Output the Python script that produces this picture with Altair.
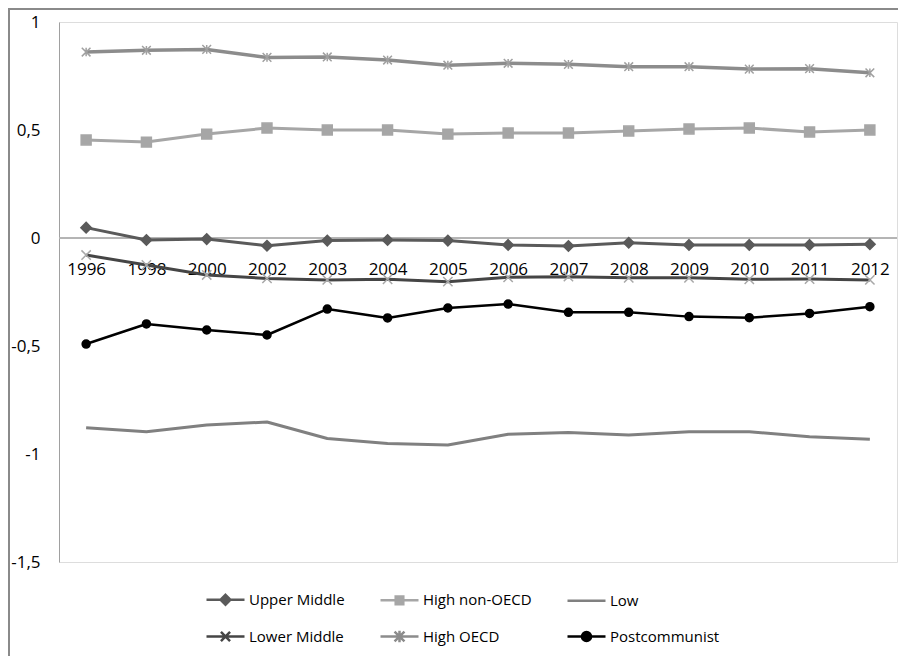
import altair as alt
import pandas as pd

years = ["1996", "1998", "2000", "2002", "2003", "2004", "2005",
         "2006", "2007", "2008", "2009", "2010", "2011", "2012"]

upper_middle = [0.048, -0.009, -0.005, -0.036, -0.012, -0.009, -0.012,
                -0.032, -0.037, -0.022, -0.032, -0.032, -0.032, -0.029]
high_non_oecd = [0.454, 0.444, 0.481, 0.509, 0.500, 0.500, 0.481,
                 0.486, 0.486, 0.495, 0.505, 0.509, 0.491, 0.500]
low = [-0.878, -0.897, -0.866, -0.852, -0.928, -0.951, -0.958,
       -0.909, -0.900, -0.912, -0.897, -0.897, -0.920, -0.932]
lower_middle = [-0.079, -0.125, -0.171, -0.187, -0.194, -0.191, -0.202,
                -0.182, -0.179, -0.184, -0.184, -0.191, -0.190, -0.194]
high_oecd = [0.861, 0.869, 0.873, 0.836, 0.838, 0.824, 0.800,
             0.809, 0.804, 0.793, 0.793, 0.782, 0.784, 0.765]
postcommunist = [-0.491, -0.398, -0.426, -0.449, -0.329, -0.370, -0.324,
                 -0.306, -0.344, -0.344, -0.364, -0.369, -0.349, -0.318]

series_names = ["Upper Middle", "High non-OECD", "Low",
                "Lower Middle", "High OECD", "Postcommunist"]
series_values = [upper_middle, high_non_oecd, low,
                 lower_middle, high_oecd, postcommunist]

line_colors = ["#5a5a5a", "#a6a6a6", "#808080", "#454545", "#8c8c8c", "#000000"]
line_widths = [3, 3, 3, 3, 3.5, 2.5]
marker_colors = ["#5a5a5a", "#a6a6a6", "#808080", "#a8a8a8", "#a0a0a0", "#000000"]

# marker shapes (None = no marker)
marker_paths = ["M0,-1L1,0L0,1L-1,0Z", "M-1,-1H1V1H-1Z", None,
                "M-1,-1L1,1M-1,1L1,-1", "M-1,-1L1,1M-1,1L1,-1M0,-1V1", "circle"]
marker_sizes = [110, 64, 0, 100, 150, 105]

# legend symbols: line segment with small marker
legend_paths = [
    "M-1,0H1M0,-0.26L0.26,0L0,0.26L-0.26,0Z",
    "M-1,0H1M-0.2,-0.2H0.2V0.2H-0.2Z",
    "M-1,0H1",
    "M-1,0H1M-0.24,-0.24L0.24,0.24M-0.24,0.24L0.24,-0.24",
    "M-1,0H1M-0.26,-0.26L0.26,0.26M-0.26,0.26L0.26,-0.26M0,-0.3V0.3",
    "M-1,0H1M-0.24,0A0.24,0.24,0,1,0,0.24,0A0.24,0.24,0,1,0,-0.24,0Z",
]
legend_stroke = ["#5a5a5a", "#a6a6a6", "#808080", "#454545", "#8c8c8c", "#000000"]

rows = []
for name, vals in zip(series_names, series_values):
    for yr, v in zip(years, vals):
        rows.append({"year": yr, "value": v, "series": name})
df = pd.DataFrame(rows)

FONT = "Open Sans"

x_enc = alt.X("year:O", sort=years, scale=alt.Scale(type="point", padding=0.45),
              axis=alt.Axis(title=None, orient="bottom", offset=-324, domain=False,
                            ticks=False, labelPadding=23, labelFontSize=17,
                            labelFont=FONT, labelColor="#000", labelAngle=0,
                            grid=False))
y_enc = alt.Y("value:Q", scale=alt.Scale(domain=[-1.5, 1], nice=False, zero=False),
              axis=alt.Axis(title=None, values=[-1.5, -1, -0.5, 0, 0.5, 1],
                            labelExpr="replace(toString(datum.value), '.', ',')",
                            grid=False, ticks=False, domain=True,
                            domainColor="#a0a0a0", domainWidth=1,
                            labelPadding=19, labelFontSize=17, labelFont=FONT,
                            labelColor="#000"))

zero_rule = alt.Chart(df).mark_rule(color="#b4b4b4", strokeWidth=1).encode(
    y=alt.datum(0))

layers = [zero_rule]
for name, col, w in zip(series_names, line_colors, line_widths):
    layers.append(
        alt.Chart(df).transform_filter(alt.datum.series == name)
        .mark_line(color=col, strokeWidth=w, strokeJoin="round")
        .encode(x=x_enc, y=y_enc)
    )

mk_names = [n for n, p in zip(series_names, marker_paths) if p]
mk_paths = [p for p in marker_paths if p]
mk_cols = [c for c, p in zip(marker_colors, marker_paths) if p]
mk_sizes = [s for s, p in zip(marker_sizes, marker_paths) if p]

points = (
    alt.Chart(df)
    .transform_filter(alt.FieldOneOfPredicate(field="series", oneOf=mk_names))
    .mark_point(strokeWidth=1.5, opacity=1)
    .encode(
        x=x_enc, y=y_enc,
        shape=alt.Shape("series:N", scale=alt.Scale(domain=mk_names, range=mk_paths), legend=None),
        stroke=alt.Stroke("series:N", scale=alt.Scale(domain=mk_names, range=mk_cols), legend=None),
        fill=alt.Fill("series:N", scale=alt.Scale(domain=mk_names, range=mk_cols), legend=None),
        size=alt.Size("series:N", scale=alt.Scale(domain=mk_names, range=mk_sizes), legend=None),
    )
)
layers.append(points)

leg = alt.Legend(title=None, orient="none", legendX=146, legendY=557,
                 direction="horizontal", columns=3, symbolSize=1444,
                 symbolStrokeWidth=2.5,
                 labelFont=FONT, labelFontSize=15, labelColor="#000",
                 labelOffset=3, columnPadding=30, rowPadding=6, padding=0,
                 symbolOpacity=1)

legend_layer = (
    alt.Chart(df)
    .transform_filter("false")
    .mark_point()
    .encode(
        x=x_enc, y=y_enc,
        shape=alt.Shape("series:N", scale=alt.Scale(domain=series_names, range=legend_paths), legend=leg),
        stroke=alt.Stroke("series:N", scale=alt.Scale(domain=series_names, range=legend_stroke), legend=leg),
        fill=alt.Fill("series:N", scale=alt.Scale(domain=series_names, range=legend_stroke), legend=leg),
    )
)
layers.append(legend_layer)

frame_left = alt.Chart(df).mark_rule(color="#8a8a8a", strokeWidth=1.5).encode(
    x=alt.value(-50), y=alt.value(-14), y2=alt.value(634))
frame_top = alt.Chart(df).mark_rule(color="#8a8a8a", strokeWidth=1.5).encode(
    x=alt.value(-50), x2=alt.value(847), y=alt.value(-13))
layers += [frame_left, frame_top]

chart = (
    alt.layer(*layers)
    .resolve_scale(shape="independent", stroke="independent", fill="independent", size="independent")
    .properties(width=838, height=540,
                padding={"left": 51, "top": 14, "right": 1, "bottom": 94},
                autosize=alt.AutoSizeParams(type="none"))
    .configure_view(stroke="#6e6e6e", strokeWidth=1.5)
    .configure(background="white")
)

chart.save("out.html", embed_options={"renderer": "svg", "actions": False})
